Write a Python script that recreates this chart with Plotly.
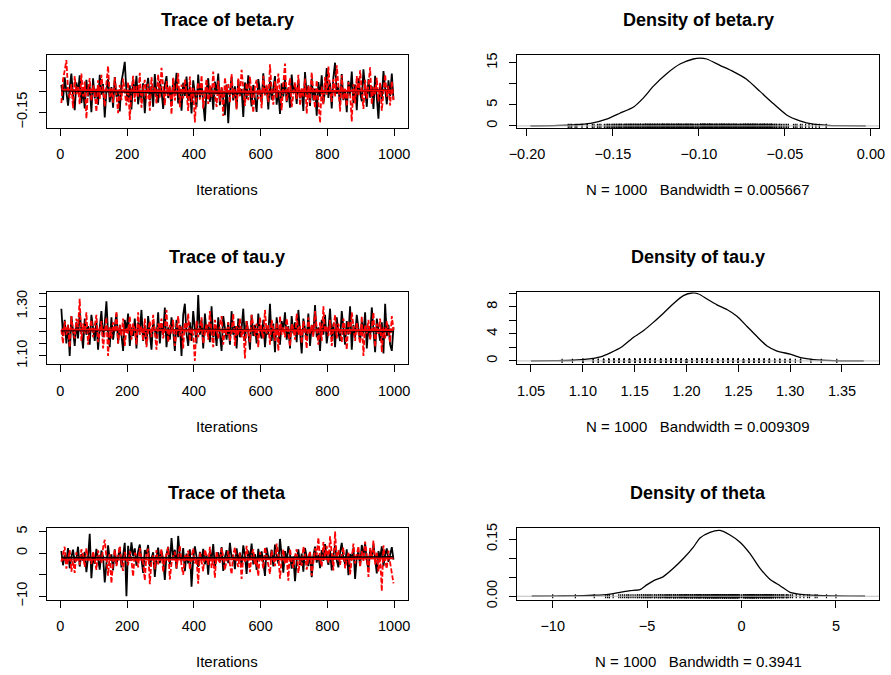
import numpy as np
import plotly.graph_objects as go

FONT = "Liberation Sans, Arial, Helvetica, sans-serif"

# ---------------- data ----------------
iterations = list(range(3, 1000, 5))  # 200 sampled iterations per chain

beta_ry_chain1 = [
 -0.085,-0.121,-0.067,-0.098,-0.134,-0.092,-0.058,-0.110,-0.145,-0.079,-0.104,-0.062,-0.128,-0.095,-0.141,-0.073,-0.112,-0.088,-0.150,-0.069,
 -0.117,-0.094,-0.132,-0.061,-0.108,-0.083,-0.162,-0.099,-0.071,-0.126,-0.090,-0.139,-0.066,-0.113,-0.097,-0.148,-0.078,-0.055,-0.030,-0.102,
 -0.124,-0.086,-0.143,-0.072,-0.109,-0.063,-0.131,-0.096,-0.118,-0.081,-0.152,-0.093,-0.068,-0.121,-0.087,-0.137,-0.059,-0.105,-0.127,-0.076,
 -0.099,-0.142,-0.084,-0.064,-0.116,-0.091,-0.135,-0.070,-0.107,-0.056,-0.129,-0.094,-0.146,-0.080,-0.111,-0.065,-0.123,-0.089,-0.153,-0.074,
 -0.101,-0.138,-0.060,-0.115,-0.082,-0.130,-0.171,-0.097,-0.069,-0.125,-0.090,-0.144,-0.077,-0.106,-0.058,-0.133,-0.092,-0.119,-0.157,-0.084,
 -0.176,-0.103,-0.066,-0.122,-0.088,-0.140,-0.073,-0.110,-0.095,-0.161,-0.079,-0.118,-0.062,-0.100,-0.136,-0.085,-0.114,-0.149,-0.071,-0.097,
 -0.127,-0.057,-0.108,-0.087,-0.143,-0.075,-0.120,-0.093,-0.064,-0.132,-0.098,-0.154,-0.081,-0.112,-0.068,-0.126,-0.091,-0.139,-0.060,-0.104,
 -0.083,-0.130,-0.072,-0.117,-0.096,-0.147,-0.054,-0.109,-0.086,-0.135,-0.070,-0.122,-0.094,-0.158,-0.078,-0.113,-0.062,-0.129,-0.099,-0.045,
 -0.116,-0.080,-0.141,-0.067,-0.032,-0.106,-0.089,-0.134,-0.059,-0.121,-0.097,-0.150,-0.075,-0.110,-0.053,-0.128,-0.084,-0.145,-0.069,-0.102,
 -0.124,-0.048,-0.093,-0.137,-0.071,-0.115,-0.088,-0.142,-0.063,-0.107,-0.165,-0.082,-0.119,-0.052,-0.096,-0.131,-0.074,-0.111,-0.058,-0.120]
beta_ry_chain2 = [
 -0.128,-0.072,-0.051,-0.026,-0.097,-0.116,-0.083,-0.140,-0.064,-0.107,-0.090,-0.131,-0.058,-0.112,-0.077,-0.165,-0.095,-0.069,-0.123,-0.086,
 -0.104,-0.149,-0.074,-0.118,-0.061,-0.099,-0.136,-0.081,-0.040,-0.114,-0.093,-0.127,-0.067,-0.108,-0.152,-0.085,-0.121,-0.070,-0.098,-0.134,
 -0.078,-0.168,-0.101,-0.063,-0.125,-0.088,-0.113,-0.056,-0.139,-0.094,-0.073,-0.119,-0.082,-0.146,-0.066,-0.105,-0.091,-0.129,-0.060,-0.115,
 -0.044,-0.100,-0.133,-0.076,-0.111,-0.087,-0.155,-0.068,-0.122,-0.096,-0.057,-0.138,-0.084,-0.117,-0.072,-0.103,-0.147,-0.065,-0.126,-0.092,
 -0.174,-0.109,-0.079,-0.120,-0.062,-0.141,-0.098,-0.071,-0.130,-0.086,-0.114,-0.053,-0.106,-0.137,-0.075,-0.124,-0.090,-0.159,-0.067,-0.102,
 -0.083,-0.128,-0.059,-0.116,-0.095,-0.143,-0.070,-0.112,-0.049,-0.099,-0.135,-0.080,-0.121,-0.065,-0.107,-0.151,-0.088,-0.073,-0.119,-0.094,
 -0.140,-0.063,-0.110,-0.085,-0.126,-0.036,-0.097,-0.132,-0.076,-0.115,-0.058,-0.101,-0.145,-0.082,-0.034,-0.123,-0.091,-0.069,-0.138,-0.105,
 -0.079,-0.118,-0.061,-0.134,-0.093,-0.112,-0.070,-0.153,-0.087,-0.127,-0.055,-0.104,-0.140,-0.074,-0.116,-0.175,-0.089,-0.131,-0.066,-0.108,
 -0.041,-0.097,-0.125,-0.071,-0.113,-0.038,-0.086,-0.148,-0.062,-0.120,-0.094,-0.136,-0.078,-0.105,-0.172,-0.083,-0.129,-0.064,-0.111,-0.050,
 -0.099,-0.142,-0.073,-0.118,-0.085,-0.043,-0.131,-0.090,-0.107,-0.068,-0.124,-0.080,-0.146,-0.095,-0.060,-0.113,-0.087,-0.134,-0.076,-0.121]

tau_y_chain1 = [
 1.290,1.180,1.245,1.150,1.225,1.100,1.260,1.195,1.140,1.235,1.170,1.275,1.205,1.130,1.250,1.185,1.220,1.145,1.265,1.200,
 1.160,1.240,1.125,1.215,1.280,1.175,1.230,1.320,1.190,1.135,1.255,1.165,1.210,1.270,1.150,1.225,1.185,1.120,1.245,1.200,
 1.270,1.140,1.215,1.180,1.250,1.130,1.235,1.195,1.285,1.160,1.220,1.145,1.260,1.190,1.125,1.240,1.205,1.170,1.275,1.150,
 1.230,1.185,1.295,1.135,1.215,1.165,1.255,1.200,1.120,1.245,1.175,1.225,1.100,1.265,1.310,1.190,1.140,1.235,1.160,1.280,
 1.210,1.150,1.345,1.185,1.245,1.130,1.270,1.195,1.225,1.155,1.300,1.175,1.215,1.140,1.255,1.190,1.120,1.260,1.205,1.165,
 1.235,1.145,1.280,1.185,1.220,1.130,1.250,1.175,1.210,1.290,1.160,1.240,1.195,1.125,1.265,1.180,1.225,1.150,1.270,1.200,
 1.170,1.245,1.135,1.215,1.185,1.310,1.160,1.230,1.115,1.255,1.195,1.145,1.240,1.205,1.275,1.165,1.220,1.130,1.260,1.190,
 1.235,1.155,1.285,1.180,1.110,1.250,1.200,1.165,1.270,1.140,1.225,1.190,1.305,1.175,1.215,1.120,1.245,1.185,1.265,1.150,
 1.205,1.290,1.170,1.230,1.135,1.255,1.195,1.160,1.280,1.215,1.145,1.240,1.185,1.300,1.125,1.225,1.175,1.265,1.200,1.155,
 1.240,1.190,1.275,1.130,1.220,1.170,1.295,1.185,1.115,1.250,1.200,1.160,1.235,1.110,1.310,1.180,1.225,1.145,1.120,1.215]
tau_y_chain2 = [
 1.205,1.150,1.240,1.185,1.225,1.135,1.260,1.195,1.170,1.250,1.215,1.330,1.160,1.230,1.190,1.275,1.145,1.210,1.245,1.175,
 1.220,1.265,1.155,1.200,1.240,1.130,1.185,1.255,1.100,1.215,1.170,1.235,1.195,1.280,1.150,1.225,1.180,1.250,1.140,1.210,
 1.190,1.260,1.165,1.230,1.205,1.145,1.275,1.185,1.220,1.160,1.250,1.135,1.200,1.240,1.175,1.265,1.195,1.125,1.230,1.210,
 1.250,1.170,1.215,1.285,1.155,1.225,1.190,1.245,1.140,1.205,1.260,1.180,1.220,1.130,1.235,1.195,1.270,1.160,1.210,1.185,
 1.080,1.240,1.175,1.215,1.255,1.150,1.200,1.230,1.165,1.280,1.190,1.135,1.245,1.205,1.170,1.225,1.260,1.145,1.210,1.185,
 1.235,1.160,1.200,1.270,1.140,1.220,1.185,1.250,1.175,1.210,1.090,1.240,1.195,1.155,1.265,1.215,1.180,1.230,1.135,1.255,
 1.200,1.170,1.285,1.190,1.225,1.145,1.245,1.205,1.160,1.235,1.120,1.260,1.185,1.215,1.175,1.250,1.195,1.140,1.230,1.210,
 1.165,1.270,1.185,1.220,1.150,1.240,1.200,1.130,1.255,1.190,1.225,1.175,1.280,1.210,1.145,1.235,1.160,1.300,1.195,1.220,
 1.180,1.245,1.140,1.215,1.265,1.170,1.230,1.195,1.155,1.250,1.205,1.125,1.240,1.185,1.275,1.220,1.160,1.235,1.200,1.150,
 1.260,1.100,1.225,1.190,1.245,1.165,1.210,1.275,1.135,1.230,1.185,1.250,1.115,1.215,1.170,1.240,1.195,1.155,1.260,1.205]

theta_chain1 = [
 0.5,-2.8,-0.4,-1.9,1.2,-3.5,-0.9,0.8,-2.2,-1.4,1.5,-3.1,-0.2,-1.7,0.3,-4.4,-1.0,4.5,-5.8,-0.6,
 -2.5,1.0,-1.3,-3.8,0.6,-0.8,-6.8,-2.0,1.8,-1.5,-0.3,-4.0,0.9,-2.6,-1.1,1.4,-3.3,-0.5,2.4,-10.0,
 1.7,-1.8,2.5,-0.7,1.1,-2.9,0.4,2.0,-1.6,-4.6,0.7,-0.2,1.9,-3.0,-1.2,0.2,-5.5,-0.9,1.3,-2.3,
 0.6,-1.4,-6.2,-0.4,1.5,-2.7,3.5,-1.0,0.8,-3.6,4.0,-0.6,-1.9,1.2,-4.2,-0.1,-2.4,0.9,-7.8,-1.3,
 1.6,-0.8,-3.2,0.3,-1.7,1.0,-2.6,-0.3,-5.0,0.5,-1.5,2.1,-3.4,-0.7,0.2,-2.1,1.4,-4.1,-0.9,0.7,
 -2.3,2.4,-1.1,-0.4,-3.7,1.1,-1.8,0.1,-2.9,1.8,-0.5,-4.8,0.6,-1.4,2.2,-2.6,-0.2,-3.9,1.0,-1.6,
 0.4,-2.0,-5.3,1.3,-0.9,-1.5,0.8,-3.1,2.0,-0.6,-2.4,3.3,-1.2,-4.5,0.5,-1.9,1.6,-0.3,-3.6,-0.8,
 -6.5,-1.7,0.9,-2.8,-0.1,-4.3,1.2,-1.3,-3.0,0.3,-5.6,-0.7,1.5,-2.2,-0.4,-3.5,0.7,-1.8,2.1,-1.0,
 -2.7,0.6,-4.0,-0.5,1.8,-1.6,-3.3,0.2,2.4,-1.1,-2.5,0.9,-5.1,-0.2,-1.4,1.3,-6.0,-0.8,0.4,-2.9,
 1.9,-0.6,2.3,-1.7,-3.8,0.8,-0.9,2.0,-2.3,-4.7,0.5,-1.2,1.6,-3.0,-0.3,1.1,-2.0,0.0,1.4,-1.5]
theta_chain2 = [
 -2.0,-0.5,1.5,-3.6,-1.1,0.7,-4.3,-1.8,-4.6,0.2,-1.3,-2.7,0.9,-0.4,-3.2,1.1,-1.7,-0.8,-2.5,0.4,
 -1.5,-3.9,0.6,-0.9,-2.2,1.3,3.1,-1.0,-5.2,-0.2,-7.0,-1.9,0.8,-3.0,-0.6,1.6,-2.4,-4.1,0.3,-1.2,
 -2.8,0.5,-1.6,-5.4,0.1,-0.7,-3.3,1.2,-1.4,-2.1,-6.3,-0.3,1.0,-7.2,-1.8,-0.5,-3.7,0.7,-2.6,-1.0,
 0.9,-4.4,-1.5,-0.2,1.4,-6.1,-2.3,-0.8,0.3,-3.5,-1.1,1.8,-2.9,-5.0,-0.4,-1.7,0.6,-3.8,-0.9,1.1,
 -2.4,-1.3,-7.1,0.2,-1.9,-4.2,0.8,-0.6,-2.7,1.5,-3.4,-1.0,-5.7,0.4,-1.5,-2.2,1.2,-0.7,-3.9,-1.4,
 0.5,-2.6,-4.9,-0.3,1.3,-1.8,-3.2,0.1,-6.0,-0.9,-2.0,1.7,-1.2,-4.4,-0.5,0.9,-2.8,-1.6,-5.3,0.2,
 -1.1,-3.6,1.4,-0.7,-2.2,-4.8,0.6,-1.5,-3.0,2.2,-0.4,-5.9,-1.3,0.8,-2.5,-0.8,-6.4,1.0,-1.9,-3.4,
 -0.6,0.9,-4.6,-1.7,-2.9,1.5,-0.2,-3.8,-1.0,0.4,-5.2,-2.1,1.1,-0.5,3.6,-1.4,-3.1,2.6,-0.9,1.7,
 -2.3,3.9,-0.8,-4.0,5.0,-1.2,0.7,-2.7,-0.3,1.3,-3.5,-1.6,0.2,-4.9,-1.0,2.2,-2.4,-0.6,1.6,-3.2,
 0.5,-1.8,2.7,-0.4,-5.5,1.2,-1.3,2.9,-2.6,0.3,-4.3,-0.7,-8.8,1.8,-1.9,-3.6,0.6,-2.2,-5.1,-7.0]

# kernel density curves
beta_dens_x = [-0.198,-0.185,-0.173,-0.163,-0.1537,-0.146,-0.138,-0.1324,-0.1266,-0.1188,-0.111,-0.1033,-0.0994,-0.0955,
               -0.0878,-0.080,-0.0723,-0.0645,-0.0568,-0.049,-0.0413,-0.0335,-0.025,-0.019,-0.003]
beta_dens_y = [0.02,0.08,0.24,0.6,1.6,3.0,4.5,6.6,9.4,12.4,14.7,15.9,16.1,15.9,
               14.4,12.9,11.1,8.2,5.3,2.6,1.2,0.4,0.12,0.05,0.0]
tau_dens_x = [1.050,1.075,1.091,1.104,1.117,1.1265,1.1378,1.149,1.1587,1.168,1.178,1.1876,1.197,1.2053,1.2117,1.2198,
              1.2294,1.239,1.2487,1.2584,1.268,1.2777,1.2873,1.300,1.310,1.3227,1.342,1.371]
tau_dens_y = [0.0,0.04,0.1,0.25,0.6,1.2,2.1,3.5,4.5,5.7,7.1,8.5,9.65,10.05,9.9,9.15,
              8.3,7.6,6.6,5.1,3.6,2.2,1.46,1.0,0.5,0.2,0.05,0.0]
theta_dens_x = [-11.11,-10.0,-8.9,-7.85,-7.14,-6.43,-5.9,-5.38,-5.02,-4.67,-4.14,-3.61,-3.08,-2.55,-2.2,-1.67,
                -1.14,-0.61,-0.08,0.45,0.98,1.5,2.04,2.57,3.27,4.33,6.54]
theta_dens_y = [0.0,0.0005,0.001,0.0026,0.0043,0.0103,0.0147,0.0172,0.030,0.0405,0.0517,0.0733,0.099,0.129,0.153,0.168,
                0.173,0.161,0.142,0.112,0.0733,0.0448,0.0276,0.0103,0.0043,0.0017,0.0]

params = ["beta.ry", "tau.y", "theta"]
bandwidths = ["0.005667", "0.009309", "0.3941"]
chains1 = [beta_ry_chain1, tau_y_chain1, theta_chain1]
chains2 = [beta_ry_chain2, tau_y_chain2, theta_chain2]
dens_x = [beta_dens_x, tau_dens_x, theta_dens_x]
dens_y = [beta_dens_y, tau_dens_y, theta_dens_y]

# tick positions / labels
trace_xticks = [0, 200, 400, 600, 800, 1000]
trace_yticks = [[-0.15, -0.10, -0.05], [1.10, 1.15, 1.20, 1.25, 1.30, 1.35], [-10, -5, 0, 5]]
trace_ytext = [["\u22120.15", "", ""], ["1.10", "", "", "", "1.30", ""], ["\u221210", "", "0", "5"]]
dens_xticks = [[-0.20, -0.15, -0.10, -0.05, 0.00], [1.05, 1.10, 1.15, 1.20, 1.25, 1.30, 1.35], [-10, -5, 0, 5]]
dens_xtext = [["\u22120.20", "\u22120.15", "\u22120.10", "\u22120.05", "0.00"],
              ["1.05", "1.10", "1.15", "1.20", "1.25", "1.30", "1.35"],
              ["\u221210", "\u22125", "0", "5"]]
dens_yticks = [[0, 5, 10, 15], [0, 2, 4, 6, 8, 10], [0, 0.05, 0.10, 0.15]]
dens_ytext = [["0", "5", "", "15"], ["0", "", "4", "", "8", ""], ["0.00", "", "", "0.15"]]

# ---------------- layout geometry ----------------
W, H = 891, 675
left_dom = [47 / W, 407.5 / W]
right_dom = [517 / W, 879 / W]
rows_px = [(55, 128), (292.3, 364.3), (527.7, 599.5)]
row_dom = [[1 - b / H, 1 - t / H] for (t, b) in rows_px]
trace_yrange = [[-0.1874, -0.0137], [1.066, 1.356], [-10.75, 5.91]]
dens_xrange = [[-0.2058, 0.0047], [1.0365, 1.3857], [-11.89, 7.28]]
dens_yrange = [[-0.5, 16.85], [-0.5, 10.15], [-0.0085, 0.180]]

fig = go.Figure()
layout = dict(width=W, height=H, margin=dict(l=0, r=0, t=0, b=0, autoexpand=False),
              paper_bgcolor="white", plot_bgcolor="white", showlegend=False,
              font=dict(family=FONT, size=15, color="black"))
annotations = []
shapes = []


def axis_style(domain, anchor, rng, tickvals, ticktext, angle):
    return dict(domain=domain, anchor=anchor, range=rng, tickvals=tickvals, ticktext=ticktext,
                tickangle=angle, showline=True, linecolor="black", linewidth=1, mirror=True,
                ticks="outside", ticklen=7, tickwidth=1, tickcolor="black", showgrid=False,
                zeroline=False, automargin=False, tickfont=dict(family=FONT, size=14.5, color="black"),
                ticklabelstandoff=6)


x = np.array(iterations)
for r in range(3):
    ti = 2 * r + 1
    di = 2 * r + 2
    tx, ty = f"x{ti}" if ti > 1 else "x", f"y{ti}" if ti > 1 else "y"
    dx, dy = f"x{di}", f"y{di}"
    # --- trace panel ---
    c1 = np.array(chains1[r])
    c2 = np.array(chains2[r])
    fig.add_trace(go.Scatter(x=x, y=c1, mode="lines", line=dict(color="black", width=1.8),
                             xaxis=tx, yaxis=ty))
    fig.add_trace(go.Scatter(x=x, y=c2, mode="lines", line=dict(color="#FF0000", width=1.8, dash="5px,2px"),
                             xaxis=tx, yaxis=ty))
    for c, col in ((c1, "black"), (c2, "#FF0000")):
        coef = np.polyfit(x, c, 2)
        fig.add_trace(go.Scatter(x=x, y=np.polyval(coef, x), mode="lines",
                                 line=dict(color=col, width=1.8), xaxis=tx, yaxis=ty))
    layout[f"xaxis{ti}" if ti > 1 else "xaxis"] = axis_style(left_dom, ty, [-40, 1040], trace_xticks,
                                                             [str(v) for v in trace_xticks], 0)
    layout[f"yaxis{ti}" if ti > 1 else "yaxis"] = axis_style(row_dom[r], tx, trace_yrange[r],
                                                             trace_yticks[r], trace_ytext[r], -90)
    # --- density panel ---
    shapes.append(dict(type="line", xref=f"{dx} domain", yref=dy, x0=0, x1=1, y0=0, y1=0,
                       line=dict(color="#BEBEBE", width=1), layer="above"))
    fig.add_trace(go.Scatter(x=dens_x[r], y=dens_y[r], mode="lines",
                             line=dict(color="black", width=1.3, shape="spline", smoothing=0.6),
                             xaxis=dx, yaxis=dy))
    rug = list(chains1[r]) + list(chains2[r])
    fig.add_trace(go.Scatter(x=rug, y=[0] * len(rug), mode="markers",
                             marker=dict(symbol="line-ns", size=3, color="black",
                                         line=dict(color="black", width=1.2)),
                             xaxis=dx, yaxis=dy))
    layout[f"xaxis{di}"] = axis_style(right_dom, dy, dens_xrange[r], dens_xticks[r], dens_xtext[r], 0)
    layout[f"yaxis{di}"] = axis_style(row_dom[r], dx, dens_yrange[r], dens_yticks[r], dens_ytext[r], -90)

    top, bot = rows_px[r]
    cx_l = (left_dom[0] + left_dom[1]) / 2
    cx_r = (right_dom[0] + right_dom[1]) / 2
    for cx, txt in ((cx_l, f"Trace of {params[r]}"), (cx_r, f"Density of {params[r]}")):
        annotations.append(dict(text=f"<b>{txt}</b>", x=cx, y=1 - (top - 35) / H, xref="paper", yref="paper",
                                xanchor="center", yanchor="middle", showarrow=False,
                                font=dict(family=FONT, size=18, color="black")))
    annotations.append(dict(text="Iterations", x=cx_l, y=1 - (bot + 62) / H, xref="paper", yref="paper",
                            xanchor="center", yanchor="middle", showarrow=False,
                            font=dict(family=FONT, size=15, color="black")))
    annotations.append(dict(text=f"N = 1000   Bandwidth = {bandwidths[r]}", x=cx_r, y=1 - (bot + 62) / H,
                            xref="paper", yref="paper", xanchor="center", yanchor="middle", showarrow=False,
                            font=dict(family=FONT, size=15, color="black")))

layout["annotations"] = annotations
layout["shapes"] = shapes
fig.update_layout(**layout)
fig.write_html("out.html")
